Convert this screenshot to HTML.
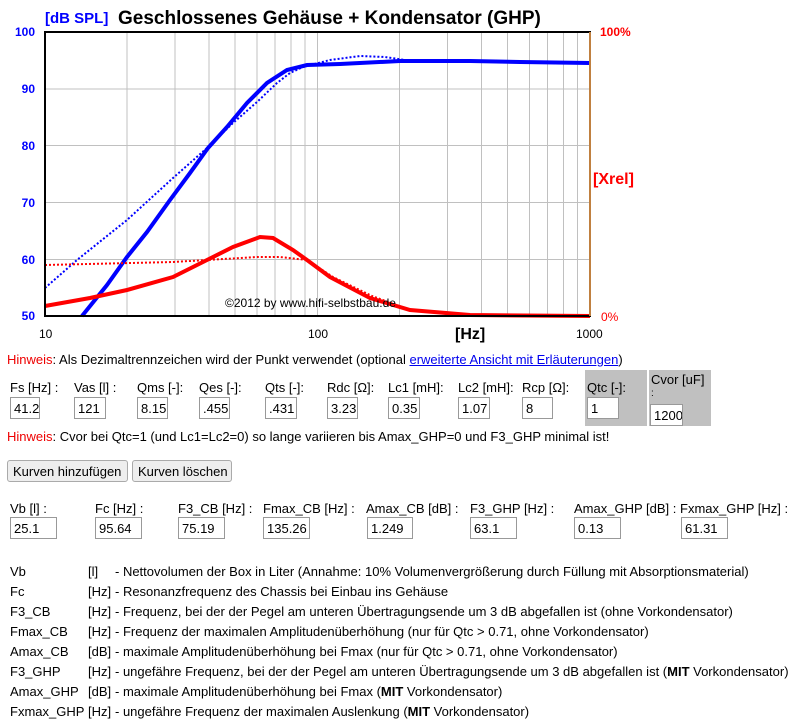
<!DOCTYPE html>
<html><head><meta charset="utf-8"><style>
*{margin:0;padding:0;box-sizing:border-box}
body{width:798px;height:723px;background:#fff;font-family:"Liberation Sans",Arial,sans-serif;font-size:13px;color:#000;position:relative;overflow:hidden}
.a{position:absolute;white-space:nowrap}
.box{position:absolute;border:1px solid #999;background:#fff;height:22px;font-size:13px;padding:3px 0 0 3px;overflow:hidden;white-space:nowrap}
.btn{position:absolute;border:1px solid #aaa;border-radius:3px;background:#eee;height:22px;font-size:13px;padding:3px 5px 0 5px;white-space:nowrap}
.red{color:#e00}
</style></head><body>
<svg class="a" style="left:0;top:0" width="798" height="345">
<g stroke="#c0c0c0" stroke-width="1" fill="none">
<line x1="45" y1="89" x2="590" y2="89"/><line x1="45" y1="145.5" x2="590" y2="145.5"/><line x1="45" y1="202.5" x2="590" y2="202.5"/><line x1="45" y1="259.5" x2="590" y2="259.5"/>
<line x1="127" y1="32" x2="127" y2="316"/><line x1="175" y1="32" x2="175" y2="316"/><line x1="209" y1="32" x2="209" y2="316"/><line x1="235" y1="32" x2="235" y2="316"/><line x1="257" y1="32" x2="257" y2="316"/><line x1="275" y1="32" x2="275" y2="316"/><line x1="291" y1="32" x2="291" y2="316"/><line x1="305" y1="32" x2="305" y2="316"/><line x1="317.5" y1="32" x2="317.5" y2="316"/>
<line x1="399.5" y1="32" x2="399.5" y2="316"/><line x1="447.5" y1="32" x2="447.5" y2="316"/><line x1="481.5" y1="32" x2="481.5" y2="316"/><line x1="507.5" y1="32" x2="507.5" y2="316"/><line x1="529.5" y1="32" x2="529.5" y2="316"/><line x1="547.5" y1="32" x2="547.5" y2="316"/><line x1="563.5" y1="32" x2="563.5" y2="316"/><line x1="577.5" y1="32" x2="577.5" y2="316"/>
</g>
<polyline fill="none" stroke="#00f" stroke-width="2" stroke-dasharray="2,2" points="45,288 77,260 127,220 173,178 207,148 233,123 257,102 277,83 290,73 303,67 330,60 360,56 385,57 405,60 470,61 590,63"/>
<polyline fill="none" stroke="#00f" stroke-width="4" points="82,316 107,285 127,257 147,232 170,200 190,173 208,148 227,127 247,103 267,83 287,70 307,65 340,64 400,61 470,61 520,62 590,63"/>
<polyline fill="none" stroke="#f00" stroke-width="2" stroke-dasharray="2,2" points="45,265 173,262 207,260 257,257 280,257 307,260 333,277 372,296 410,310 470,316 590,316"/>
<polyline fill="none" stroke="#f00" stroke-width="4" points="45,306 90,298 127,290 173,277 207,260 233,247 260,237 273,238 293,250 307,260 330,277 370,298 410,310 470,315 590,316"/>
<rect x="45" y="32" width="545" height="284" fill="none" stroke="#000" stroke-width="2"/>
<line x1="590" y1="32" x2="590" y2="316" stroke="#c08040" stroke-width="2"/>
<text x="225" y="307" font-size="12" font-family="Liberation Sans,sans-serif">©2012 by www.hifi-selbstbau.de</text>
<g font-family="Liberation Sans,sans-serif" font-weight="bold" font-size="12" fill="#00f" text-anchor="end">
<text x="35" y="36">100</text><text x="35" y="93">90</text><text x="35" y="150">80</text><text x="35" y="207">70</text><text x="35" y="264">60</text><text x="35" y="320">50</text></g>
<text x="45" y="23" font-family="Liberation Sans,sans-serif" font-weight="bold" font-size="15" fill="#00f">[dB SPL]</text>
<text x="118" y="24" font-family="Liberation Sans,sans-serif" font-weight="bold" font-size="19" fill="#000">Geschlossenes Gehäuse + Kondensator (GHP)</text>
<g font-family="Liberation Sans,sans-serif" font-size="12" fill="#f00">
<text x="600" y="36" font-weight="bold">100%</text><text x="601" y="321">0%</text>
<text x="593" y="184" font-weight="bold" font-size="16">[Xrel]</text></g>
<g font-family="Liberation Sans,sans-serif" font-size="12" fill="#000">
<text x="39" y="338">10</text><text x="308" y="338">100</text><text x="576" y="338">1000</text>
<text x="455" y="339" font-weight="bold" font-size="16">[Hz]</text></g>
</svg>
<div class="a" style="left:7px;top:352px"><span class="red">Hinweis</span>: Als Dezimaltrennzeichen wird der Punkt verwendet (optional <span style="color:#00e;text-decoration:underline">erweiterte Ansicht mit Erläuterungen</span>)</div>
<div class="a" style="left:585px;top:370px;width:62px;height:56px;background:#c0c0c0"></div>
<div class="a" style="left:649px;top:370px;width:62px;height:56px;background:#c0c0c0"></div>
<div class="a" style="left:10px;top:380px">Fs [Hz] :</div><div class="box" style="left:10px;top:397px;width:30px">41.2</div>
<div class="a" style="left:74px;top:380px">Vas [l] :</div><div class="box" style="left:74px;top:397px;width:32px">121</div>
<div class="a" style="left:137px;top:380px">Qms [-]:</div><div class="box" style="left:137px;top:397px;width:31px">8.15</div>
<div class="a" style="left:199px;top:380px">Qes [-]:</div><div class="box" style="left:199px;top:397px;width:31px">.455</div>
<div class="a" style="left:265px;top:380px">Qts [-]:</div><div class="box" style="left:265px;top:397px;width:32px">.431</div>
<div class="a" style="left:327px;top:380px">Rdc [Ω]:</div><div class="box" style="left:327px;top:397px;width:31px">3.23</div>
<div class="a" style="left:388px;top:380px">Lc1 [mH]:</div><div class="box" style="left:388px;top:397px;width:32px">0.35</div>
<div class="a" style="left:458px;top:380px">Lc2 [mH]:</div><div class="box" style="left:458px;top:397px;width:32px">1.07</div>
<div class="a" style="left:522px;top:380px">Rcp [Ω]:</div><div class="box" style="left:522px;top:397px;width:31px">8</div>
<div class="a" style="left:587px;top:380px">Qtc [-]:</div><div class="box" style="left:587px;top:397px;width:32px">1</div>
<div class="a" style="left:651px;top:372px">Cvor [uF]</div><div class="a" style="left:651px;top:388px;font-size:10px">:</div>
<div class="box" style="left:650px;top:404px;width:33px">1200</div>
<div class="a" style="left:7px;top:429px"><span class="red">Hinweis</span>: Cvor bei Qtc=1 (und Lc1=Lc2=0) so lange variieren bis Amax_GHP=0 und F3_GHP minimal ist!</div>
<div class="btn" style="left:7px;top:460px;width:121px">Kurven hinzufügen</div>
<div class="btn" style="left:132px;top:460px;width:100px">Kurven löschen</div>
<div class="a" style="left:10px;top:501px">Vb [l] :</div><div class="box" style="left:10px;top:517px;width:47px">25.1</div>
<div class="a" style="left:95px;top:501px">Fc [Hz] :</div><div class="box" style="left:95px;top:517px;width:47px">95.64</div>
<div class="a" style="left:178px;top:501px">F3_CB [Hz] :</div><div class="box" style="left:178px;top:517px;width:47px">75.19</div>
<div class="a" style="left:263px;top:501px">Fmax_CB [Hz] :</div><div class="box" style="left:263px;top:517px;width:47px">135.26</div>
<div class="a" style="left:366px;top:501px">Amax_CB [dB] :</div><div class="box" style="left:367px;top:517px;width:46px">1.249</div>
<div class="a" style="left:470px;top:501px">F3_GHP [Hz] :</div><div class="box" style="left:470px;top:517px;width:47px">63.1</div>
<div class="a" style="left:574px;top:501px">Amax_GHP [dB] :</div><div class="box" style="left:574px;top:517px;width:47px">0.13</div>
<div class="a" style="left:680px;top:501px">Fxmax_GHP [Hz] :</div><div class="box" style="left:681px;top:517px;width:47px">61.31</div>
<div class="a" style="left:10px;top:562px;line-height:20px">Vb<br>Fc<br>F3_CB<br>Fmax_CB<br>Amax_CB<br>F3_GHP<br>Amax_GHP<br>Fxmax_GHP</div>
<div class="a" style="left:88px;top:562px;line-height:20px">[l]<br>[Hz]<br>[Hz]<br>[Hz]<br>[dB]<br>[Hz]<br>[dB]<br>[Hz]</div>
<div class="a" style="left:115px;top:562px;line-height:20px">- Nettovolumen der Box in Liter (Annahme: 10% Volumenvergrößerung durch Füllung mit Absorptionsmaterial)<br>- Resonanzfrequenz des Chassis bei Einbau ins Gehäuse<br>- Frequenz, bei der der Pegel am unteren Übertragungsende um 3 dB abgefallen ist (ohne Vorkondensator)<br>- Frequenz der maximalen Amplitudenüberhöhung (nur für Qtc &gt; 0.71, ohne Vorkondensator)<br>- maximale Amplitudenüberhöhung bei Fmax (nur für Qtc &gt; 0.71, ohne Vorkondensator)<br>- ungefähre Frequenz, bei der der Pegel am unteren Übertragungsende um 3 dB abgefallen ist (<b>MIT</b> Vorkondensator)<br>- maximale Amplitudenüberhöhung bei Fmax (<b>MIT</b> Vorkondensator)<br>- ungefähre Frequenz der maximalen Auslenkung (<b>MIT</b> Vorkondensator)</div>
</body></html>
